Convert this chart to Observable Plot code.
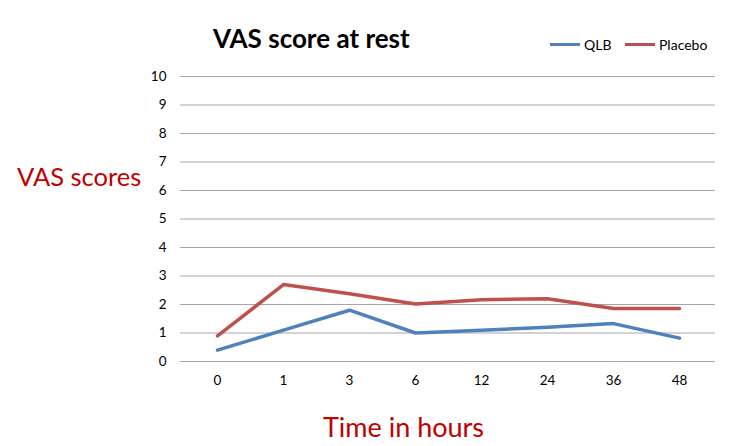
<!DOCTYPE html>
<html>
<head>
<meta charset="utf-8">
<script src="https://cdn.jsdelivr.net/npm/d3@7"></script>
<script src="https://cdn.jsdelivr.net/npm/@observablehq/plot@0.6"></script>
<style>
  body { margin: 0; background: #fff; }
  #wrap { position: relative; width: 750px; height: 446px; font-family: Lato, "Open Sans", sans-serif; }
  .t { position: absolute; white-space: nowrap; line-height: 1; }
  #title { left: 213px; top: 25px; font-size: 26px; font-weight: bold; color: #000; }
  #ylab { left: 17px; top: 164px; font-size: 25.5px; color: #c00000; }
  #xlab { left: 323px; top: 413px; font-size: 27px; color: #c00000; }
  .leg { position: absolute; top: 36px; font-size: 14px; color: #000; display: flex; align-items: center; }
  .sw { display: inline-block; width: 30px; height: 3px; margin-right: 4px; }
</style>
</head>
<body>
<div id="wrap">
  <div id="chart"></div>
  <div class="t" id="title">VAS score at rest</div>
  <div class="t" id="ylab">VAS scores</div>
  <div class="t" id="xlab">Time in hours</div>
  <div class="leg" style="left:550px"><span class="sw" style="background:#4f81bd"></span>QLB</div>
  <div class="leg" style="left:625px"><span class="sw" style="background:#c0504d"></span>Placebo</div>
</div>
<script>
const hours = ["0", "1", "3", "6", "12", "24", "36", "48"];
const qlb = [0.4, 1.1, 1.8, 1.0, 1.1, 1.2, 1.33, 0.82];
const placebo = [0.9, 2.7, 2.38, 2.02, 2.17, 2.2, 1.86, 1.86];
const yTicks = [0, 1, 2, 3, 4, 5, 6, 7, 8, 9, 10];
const seriesNames = ["QLB", "Placebo"];
const seriesColors = ["#4f81bd", "#c0504d"];

const rows = [];
hours.forEach((h, i) => {
  rows.push({hour: h, value: qlb[i], series: seriesNames[0]});
});
hours.forEach((h, i) => {
  rows.push({hour: h, value: placebo[i], series: seriesNames[1]});
});

const chart = Plot.plot({
  width: 750,
  height: 446,
  marginLeft: 180,
  marginRight: 35,
  marginTop: 76,
  marginBottom: 85,
  style: {fontFamily: "Lato, 'Open Sans', sans-serif", fontSize: "13.5px", color: "#000", background: "#fff"},
  x: {type: "point", domain: hours, padding: 0.5, label: null},
  y: {domain: [0, 10], label: null},
  color: {domain: seriesNames, range: seriesColors},
  marks: [
    Plot.gridY(yTicks, {stroke: "#a6a6a6", strokeOpacity: 1, strokeWidth: 1}),
    Plot.axisY(yTicks, {tickSize: 0, tickPadding: 14, label: null, fontSize: 13.5}),
    Plot.axisX({tickSize: 0, tickPadding: 14, label: null, fontSize: 13.5}),
    Plot.line(rows, {x: "hour", y: "value", z: "series", stroke: "series", strokeWidth: 3.5, curve: "linear"})
  ]
});
document.getElementById("chart").appendChild(chart);
</script>
</body>
</html>
